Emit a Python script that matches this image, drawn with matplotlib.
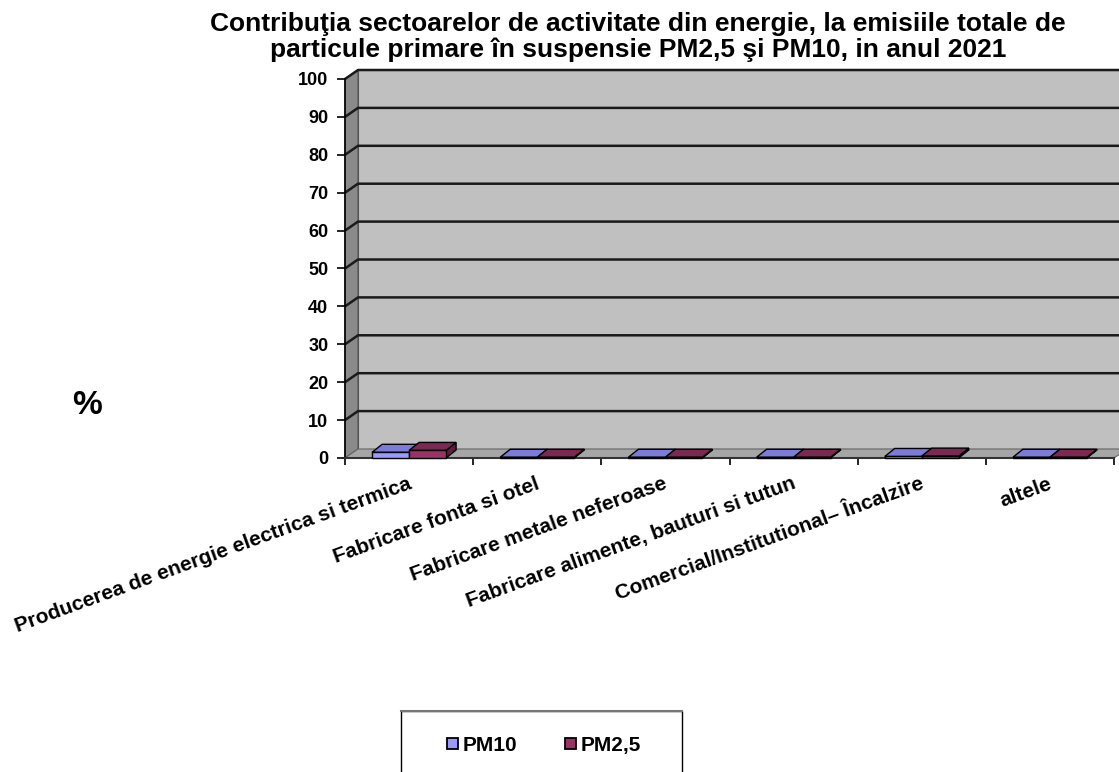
import matplotlib
matplotlib.use("Agg")
import matplotlib.pyplot as plt
from matplotlib.patches import Polygon, Rectangle

plt.rcParams['font.family'] = ['Liberation Sans', 'DejaVu Sans']
plt.rcParams['font.weight'] = 'bold'

# ---- data ----
categories = ["Producerea de energie electrica si termica",
              "Fabricare fonta si otel",
              "Fabricare metale neferoase",
              "Fabricare alimente, bauturi si tutun",
              "Comercial/Institutional\u2013 \u00cencalzire",
              "altele"]
series_names = ["PM10", "PM2,5"]
pm10 = [1.5, 0.2, 0.2, 0.2, 0.4, 0.2]
pm25 = [2.0, 0.2, 0.2, 0.2, 0.5, 0.2]
yticks = list(range(0, 101, 10))
title = ("Contribu\u0163ia sectoarelor de activitate din energie, la emisiile totale de\n"
         "particule primare \u00een suspensie PM2,5 \u015fi PM10, in anul 2021")

# ---- style ----
W, H = 1119, 772
fig = plt.figure(figsize=(W / 100, H / 100), dpi=100)
fig.patch.set_facecolor('white')

x0px, x1px, y0px, y1px = 345, 1114, 458, 79
ax = fig.add_axes([x0px / W, (H - y0px) / H, (x1px - x0px) / W, (y0px - y1px) / H])
n = len(categories)
ax.set_xlim(0, n)
ax.set_ylim(0, 100)
ax.set_facecolor('none')

pxx = n / (x1px - x0px)
pxy = 100 / (y0px - y1px)
wdx, wdy = 13 * pxx, 9 * pxy     # wall depth
bdx, bdy = 10 * pxx, 8 * pxy     # bar depth

wall_col = '#c0c0c0'
side_col = '#8a8a8a'
floor_col = '#a6a6a6'

# side wall
ax.add_patch(Polygon([(0, 0), (0, 100), (wdx, 100 + wdy), (wdx, wdy)], closed=True,
                     facecolor=side_col, edgecolor='#555555', lw=0.8, clip_on=False, zorder=1))
# back wall
ax.add_patch(Polygon([(wdx, wdy), (wdx, 100 + wdy), (n + wdx, 100 + wdy), (n + wdx, wdy)],
                     closed=True, facecolor=wall_col, edgecolor='#555555', lw=0.8,
                     clip_on=False, zorder=1))
# floor
ax.add_patch(Polygon([(0, 0), (n, 0), (n + wdx, wdy), (wdx, wdy)], closed=True,
                     facecolor=floor_col, edgecolor='#666666', lw=0.8, clip_on=False, zorder=1))
# gridlines
for v in yticks[1:]:
    ax.plot([0, wdx, n + wdx], [v, v + wdy, v + wdy], color='#1a1a1a', lw=1.8,
            clip_on=False, zorder=2, solid_capstyle='butt')

# bars
bw = 37 * pxx
colors = [('#9999ff', '#7c7cd8', '#6666b8'), ('#993366', '#7a2952', '#5c1f3d')]
for i in range(n):
    c = i + 0.5
    for s, vals in enumerate([pm10, pm25]):
        v = vals[i]
        xa = c - bw + s * bw
        xb = xa + bw
        front, top, side = colors[s]
        ax.add_patch(Polygon([(xb, 0), (xb + bdx, bdy), (xb + bdx, v + bdy), (xb, v)],
                             closed=True, facecolor=side, edgecolor='black', lw=1.0,
                             clip_on=False, zorder=4))
        ax.add_patch(Polygon([(xa, v), (xb, v), (xb + bdx, v + bdy), (xa + bdx, v + bdy)],
                             closed=True, facecolor=top, edgecolor='black', lw=1.0,
                             clip_on=False, zorder=4))
        ax.add_patch(Rectangle((xa, 0), bw, v, facecolor=front, edgecolor='black', lw=1.0,
                               clip_on=False, zorder=5))

# axes
for sp in ['top', 'right']:
    ax.spines[sp].set_visible(False)
ax.spines['left'].set_color('black')
ax.spines['bottom'].set_color('#333333')
ax.spines['left'].set_linewidth(1.2)
ax.spines['bottom'].set_linewidth(1.5)
ax.set_yticks(yticks)
ax.set_yticklabels([str(t) for t in yticks], fontsize=13, fontweight='bold')
ax.set_xticks(range(n + 1))
ax.set_xticklabels([])
ax.tick_params(axis='y', direction='out', length=6, width=1.2, pad=6)
ax.tick_params(axis='x', direction='out', length=5, width=1.2)

for i, lab in enumerate(categories):
    ax.annotate(lab, xy=(i + 0.5, 0), xycoords='data', xytext=(-2, -16),
                textcoords='offset pixels', ha='right', va='top', rotation=20,
                rotation_mode='anchor', fontsize=15, fontweight='bold', annotation_clip=False)

fig.text(87 / W, 1 - 405 / H, '%', fontsize=24, fontweight='bold', ha='center', va='center')

fig.text(638 / W, 1 - 37 / H, title, fontsize=19, fontweight='bold', ha='center',
         va='center', linespacing=1.05)

# legend
leg_ax = fig.add_axes([0, 0, 1, 1])
leg_ax.set_xlim(0, W)
leg_ax.set_ylim(H, 0)
leg_ax.axis('off')
leg_ax.add_patch(Rectangle((401, 711), 281, 80, facecolor='white', edgecolor='black', lw=1.0))
leg_ax.plot([401, 682], [711, 711], color='#777777', lw=1.5)
sq_x = [447, 565]
for s, name in enumerate(series_names):
    leg_ax.add_patch(Rectangle((sq_x[s], 738), 11, 11, facecolor=colors[s][0],
                               edgecolor='black', lw=1.3))
    leg_ax.text(sq_x[s] + 16, 751, name, fontsize=15, fontweight='bold', ha='left',
                va='baseline')

fig.savefig('out.png', dpi=100)
